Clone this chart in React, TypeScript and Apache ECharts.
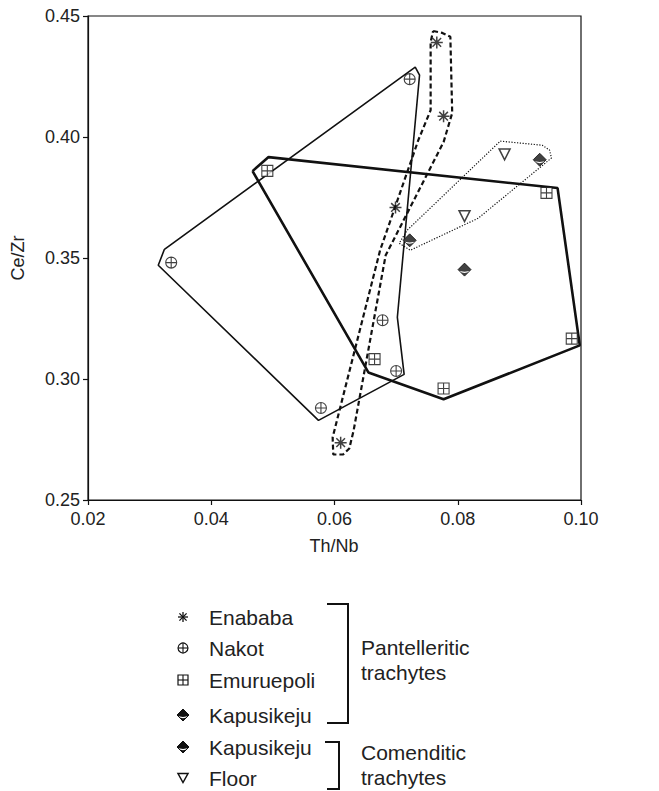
import React, { useEffect, useRef } from "react";
import * as echarts from "echarts";

// Axis ranges
const X_MIN = 0.02;
const X_MAX = 0.1;
const X_STEP = 0.02;
const Y_MIN = 0.25;
const Y_MAX = 0.45;
const Y_STEP = 0.05;
const xTitle = "Th/Nb";
const yTitle = "Ce/Zr";

// Samples: [Th/Nb, Ce/Zr]
const enababa = [
  [0.0766, 0.4391],
  [0.0777, 0.4086],
  [0.0699, 0.3709],
  [0.061, 0.2737],
];
const nakot = [
  [0.0722, 0.4239],
  [0.0335, 0.3481],
  [0.0578, 0.288],
  [0.0678, 0.3243],
  [0.07, 0.3033],
];
const emuruepoli = [
  [0.0491, 0.386],
  [0.0944, 0.3769],
  [0.0985, 0.3167],
  [0.0665, 0.3082],
  [0.0777, 0.2961],
];
const kapusikejuPant = [[0.0811, 0.3452]];
const kapusikejuCom = [
  [0.0722, 0.3573],
  [0.0933, 0.3906],
];
const floor = [
  [0.0876, 0.3928],
  [0.0811, 0.3673],
];

// Envelopes around each group
const emuruepoliField = [
  [0.0467, 0.3859],
  [0.0493, 0.3917],
  [0.0962, 0.3789],
  [0.0998, 0.3139],
  [0.0777, 0.2916],
  [0.0655, 0.3027],
  [0.0467, 0.3859],
];
const nakotField = [
  [0.0324, 0.3536],
  [0.0314, 0.347],
  [0.0574, 0.2829],
  [0.0713, 0.3019],
  [0.0702, 0.3255],
  [0.0738, 0.4256],
  [0.0731, 0.4289],
  [0.0324, 0.3536],
];
const enababaField = [
  [0.076, 0.4438],
  [0.0775, 0.443],
  [0.0788, 0.4414],
  [0.0791, 0.4099],
  [0.0777, 0.3979],
  [0.0683, 0.3511],
  [0.0631, 0.2787],
  [0.0624, 0.2713],
  [0.0614, 0.2688],
  [0.0598, 0.2688],
  [0.0597, 0.2759],
  [0.0674, 0.3532],
  [0.0736, 0.3987],
  [0.0756, 0.4111],
  [0.0756, 0.4392],
  [0.076, 0.4438],
];
const comenditicField = [
  [0.0869, 0.3983],
  [0.0937, 0.3966],
  [0.0949, 0.3946],
  [0.0952, 0.3913],
  [0.0833, 0.3664],
  [0.0723, 0.3532],
  [0.0705, 0.3561],
  [0.0718, 0.3615],
  [0.0869, 0.3983],
];

const legendNames = ["Enababa", "Nakot", "Emuruepoli", "Kapusikeju", "Kapusikeju", "Floor"];
const pantelleriticLabel = ["Pantelleritic", "trachytes"];
const comenditicLabel = ["Comenditic", "trachytes"];

const INK = "#111";
const FONT = "'Liberation Sans', Arial, Helvetica, sans-serif";

// Marker outlines
const SYM_ASTERISK = "path://M-5,0L5,0M-3.6,-3.6L3.6,3.6M-3.6,3.6L3.6,-3.6M0,-5L0,5";
const SYM_CIRCLE_PLUS =
  "path://M0,-5A5,5,0,1,1,0,5A5,5,0,1,1,0,-5ZM-5,0L5,0M0,-5L0,5";
const SYM_SQUARE_PLUS = "path://M-5,-5L5,-5L5,5L-5,5ZM-5,0L5,0M0,-5L0,5";
const SYM_TRIANGLE = "path://M-5,-4.5L5,-4.5L0,4.5Z";
const SYM_DIAMOND = "path://M0,-6L6,0L0,6L-6,0Z";
// Black diamond split by a thin white chevron near its lower tip
const DIAMOND_TOP = [[0, -6], [6, 0], [4.7, 1.3], [0, 2.0], [-4.7, 1.3], [-6, 0]];
const DIAMOND_TIP = [[-3.6, 2.4], [0, 3.2], [3.6, 2.4], [0, 6]];
const SYM_DIAMOND_FILL =
  "path://M" + DIAMOND_TOP.map((p) => p.join(",")).join("L") + "Z" +
  "M" + DIAMOND_TIP.map((p) => p.join(",")).join("L") + "Z";

function envelope(data: number[][], width: number, type: any) {
  return {
    type: "line",
    data,
    symbol: "none",
    silent: true,
    z: 2,
    lineStyle: { color: INK, width, type },
  };
}

function markers(data: number[][], symbol: string, size: number, fill = "#fff", border = 1.1) {
  return {
    type: "scatter",
    data,
    symbol,
    symbolSize: size,
    z: 5,
    itemStyle: { color: fill, borderColor: INK, borderWidth: border },
  };
}

function legendGraphics() {
  const els: any[] = [];
  const mx = 183;
  const tx = 209;
  const rows = [617, 648, 680, 715, 747, 778];
  const line = (x1: number, y1: number, x2: number, y2: number, w = 1.3) => ({
    type: "line",
    shape: { x1, y1, x2, y2 },
    style: { stroke: INK, lineWidth: w },
  });
  const diamond = (cx: number, cy: number) => {
    els.push({
      type: "polygon",
      shape: { points: [[cx, cy - 6], [cx + 6, cy], [cx, cy + 6], [cx - 6, cy]] },
      style: { fill: "#fff", stroke: INK, lineWidth: 1 },
    });
    els.push({
      type: "polygon",
      shape: { points: DIAMOND_TOP.map(([x, y]) => [cx + x, cy + y]) },
      style: { fill: INK },
    });
    els.push({
      type: "polygon",
      shape: { points: DIAMOND_TIP.map(([x, y]) => [cx + x, cy + y]) },
      style: { fill: INK },
    });
  };
  // Enababa
  let y = rows[0];
  els.push(line(mx - 5, y, mx + 5, y), line(mx - 3.6, y - 3.6, mx + 3.6, y + 3.6), line(mx - 3.6, y + 3.6, mx + 3.6, y - 3.6), line(mx, y - 5, mx, y + 5));
  // Nakot
  y = rows[1];
  els.push({ type: "circle", shape: { cx: mx, cy: y, r: 5 }, style: { fill: "#fff", stroke: INK, lineWidth: 1.2 } });
  els.push(line(mx - 5, y, mx + 5, y, 1.1), line(mx, y - 5, mx, y + 5, 1.1));
  // Emuruepoli
  y = rows[2];
  els.push({ type: "rect", shape: { x: mx - 5, y: y - 5, width: 10, height: 10 }, style: { fill: "#fff", stroke: INK, lineWidth: 1.2 } });
  els.push(line(mx - 5, y, mx + 5, y, 1.1), line(mx, y - 5, mx, y + 5, 1.1));
  // Kapusikeju (both groups)
  diamond(mx, rows[3]);
  diamond(mx, rows[4]);
  // Floor
  y = rows[5];
  els.push({
    type: "polygon",
    shape: { points: [[mx - 5, y - 4.5], [mx + 5, y - 4.5], [mx, y + 4.5]] },
    style: { fill: "#fff", stroke: INK, lineWidth: 1.5 },
  });

  legendNames.forEach((name, i) => {
    els.push({
      type: "text",
      x: tx,
      y: rows[i],
      style: { text: name, font: `21px ${FONT}`, fill: "#222", verticalAlign: "middle", align: "left" },
    });
  });

  // Group brackets
  els.push({
    type: "polyline",
    shape: { points: [[327, 604], [348, 604], [348, 723], [327, 723]] },
    style: { stroke: INK, lineWidth: 2, fill: "none" },
  });
  els.push({
    type: "polyline",
    shape: { points: [[325, 742], [339, 742], [339, 789], [327, 789]] },
    style: { stroke: INK, lineWidth: 2, fill: "none" },
  });
  const groupText = (lines: string[], y0: number) =>
    lines.forEach((t, i) =>
      els.push({
        type: "text",
        x: 361,
        y: y0 + i * 25,
        style: { text: t, font: `21px ${FONT}`, fill: "#222", verticalAlign: "middle", align: "left" },
      })
    );
  groupText(pantelleriticLabel, 647);
  groupText(comenditicLabel, 752);

  // Axis titles
  els.push({
    type: "text",
    x: 334,
    y: 546,
    style: { text: xTitle, font: `18px ${FONT}`, fill: "#222", align: "center", verticalAlign: "middle" },
  });
  els.push({
    type: "text",
    x: 18,
    y: 258,
    rotation: Math.PI / 2,
    style: { text: yTitle, font: `18px ${FONT}`, fill: "#222", align: "center", verticalAlign: "middle" },
  });
  return els;
}

export default function App() {
  const ref = useRef<HTMLDivElement>(null);

  useEffect(() => {
    document.body.style.margin = "0";
    if (!ref.current) return;
    const chart = echarts.init(ref.current, undefined, { renderer: "svg" });
    const axisCommon = {
      axisLine: { show: true, lineStyle: { color: INK, width: 1.2 } },
      axisTick: { show: true, inside: false, length: 5, lineStyle: { color: INK, width: 1.2 } },
      splitLine: { show: false },
    };
    chart.setOption({
      animation: false,
      backgroundColor: "#fff",
      grid: {
        left: 88,
        right: 78,
        top: 16,
        bottom: 291,
        show: true,
        borderColor: INK,
        borderWidth: 1.2,
        backgroundColor: "transparent",
      },
      xAxis: {
        type: "value",
        min: X_MIN,
        max: X_MAX,
        interval: X_STEP,
        ...axisCommon,
        axisLabel: {
          margin: 10,
          color: "#222",
          fontSize: 18,
          fontFamily: FONT,
          formatter: (v: number) => v.toFixed(2),
        },
      },
      yAxis: {
        type: "value",
        min: Y_MIN,
        max: Y_MAX,
        interval: Y_STEP,
        ...axisCommon,
        axisLabel: {
          margin: 8,
          color: "#222",
          fontSize: 18,
          fontFamily: FONT,
          formatter: (v: number) => v.toFixed(2),
        },
      },
      series: [
        envelope(emuruepoliField, 2.6, "solid"),
        envelope(nakotField, 1.6, "solid"),
        envelope(enababaField, 2.2, [5, 3]),
        envelope(comenditicField, 1.2, [1.2, 1.6]),
        markers(enababa, SYM_ASTERISK, 12, "none", 1.5),
        markers(nakot, SYM_CIRCLE_PLUS, 11),
        markers(emuruepoli, SYM_SQUARE_PLUS, 11),
        markers(floor, SYM_TRIANGLE, 11, "#fff", 1.5),
        markers(kapusikejuPant, SYM_DIAMOND, 13, "#fff", 1),
        markers(kapusikejuCom, SYM_DIAMOND, 13, "#fff", 1),
        { ...markers(kapusikejuPant, SYM_DIAMOND_FILL, 13, INK, 0), z: 6 },
        { ...markers(kapusikejuCom, SYM_DIAMOND_FILL, 13, INK, 0), z: 6 },
      ],
      graphic: legendGraphics(),
    });
    return () => chart.dispose();
  }, []);

  return <div ref={ref} style={{ width: 659, height: 791 }} />;
}
